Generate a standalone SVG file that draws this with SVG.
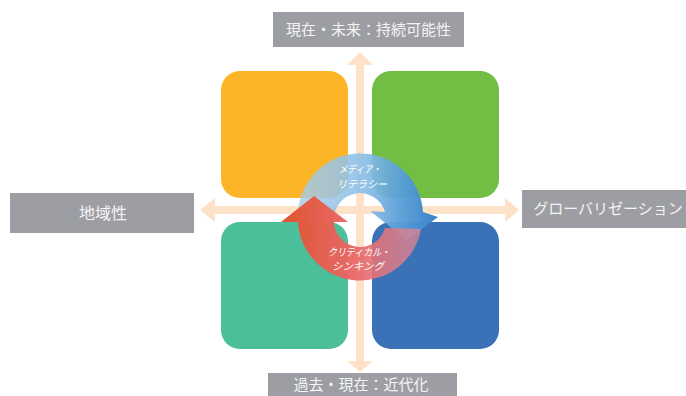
<svg xmlns="http://www.w3.org/2000/svg" width="686" height="396" viewBox="0 0 686 396">
<defs>
<style>
.lbl{fill:#9d9ea3}
.lt{fill:#f4f4f4;font-family:"Noto Sans CJK JP","Noto Sans",sans-serif;font-size:15px;text-anchor:middle}
.ax{fill:#fde2c8}
.ct{fill:#ffffff;font-family:"Noto Sans CJK JP","Noto Sans",sans-serif;font-size:10.5px;font-style:italic;text-anchor:middle}
</style>
<linearGradient id="gb" x1="298" y1="0" x2="440" y2="0" gradientUnits="userSpaceOnUse">
<stop offset="0" stop-color="#a9cbe6" stop-opacity="0.82"/>
<stop offset="0.45" stop-color="#8cc0e8" stop-opacity="0.9"/>
<stop offset="0.72" stop-color="#5a9fd8" stop-opacity="0.95"/>
<stop offset="1" stop-color="#3381c6"/>
</linearGradient>
<linearGradient id="gr" x1="282" y1="0" x2="425" y2="0" gradientUnits="userSpaceOnUse">
<stop offset="0" stop-color="#e0532f"/>
<stop offset="0.5" stop-color="#ea6767" stop-opacity="0.96"/>
<stop offset="1" stop-color="#d98a9c" stop-opacity="0.75"/>
</linearGradient>
</defs>
<rect width="686" height="396" fill="#ffffff"/>

<g id="quadrants">
<rect id="q-orange" x="221" y="71" width="127" height="127" rx="19" fill="#fbb526"/>
<rect id="q-green" x="372" y="71" width="127" height="127" rx="19" fill="#72be45"/>
<rect id="q-teal" x="221" y="222" width="127" height="127" rx="19" fill="#4abf9a"/>
<rect id="q-blue" x="372" y="222" width="127" height="127" rx="19" fill="#3a71b7"/>
</g>

<g id="connectors">
<rect class="ax" x="356" y="64" width="8" height="298"/>
<polygon class="ax" points="347,65 360,52 373,65"/>
<polygon class="ax" points="347,361 360,372 373,361"/>
<rect class="ax" x="214" y="206" width="292" height="8"/>
<polygon class="ax" points="215,198 200,210 215,222"/>
<polygon class="ax" points="505,198 519,210 505,222"/>
</g>

<g id="label-top">
<rect class="lbl" x="273" y="12" width="191" height="35"/>
<text class="lt" x="368.5" y="35">現在・未来：持続可能性</text>
</g>
<g id="label-bottom">
<rect class="lbl" x="268" y="373" width="189" height="30"/>
<text class="lt" x="361" y="390">過去・現在：近代化</text>
</g>
<g id="label-left">
<rect class="lbl" x="10" y="193" width="184" height="40"/>
<text class="lt" x="103" y="219" style="font-size:16px">地域性</text>
</g>
<g id="label-right">
<rect class="lbl" x="522" y="190" width="164" height="38"/>
<text class="lt" x="608" y="214">グローバリゼーション</text>
</g>

<g id="cycle-media">
<path d="M298,220 A62,62 0 0 1 423,212 L438,217 L407,240 L370,211 L385,212 A26,26 0 0 0 334,220 Z" fill="url(#gb)"/>
<text class="ct" x="360" y="173" textLength="42" lengthAdjust="spacingAndGlyphs">メディア・</text>
<text class="ct" x="362" y="188" textLength="50" lengthAdjust="spacingAndGlyphs">リテラシー</text>
</g>
<g id="cycle-critical">
<path d="M421,229 A62,62 0 0 1 298,222 L281,222 L314,196 L348,222 L334,222 A26,26 0 0 0 385,228 Z" fill="url(#gr)"/>
<text class="ct" x="359" y="256" textLength="62" lengthAdjust="spacingAndGlyphs">クリティカル・</text>
<text class="ct" x="358" y="270" textLength="52" lengthAdjust="spacingAndGlyphs">シンキング</text>
</g>
</svg>
